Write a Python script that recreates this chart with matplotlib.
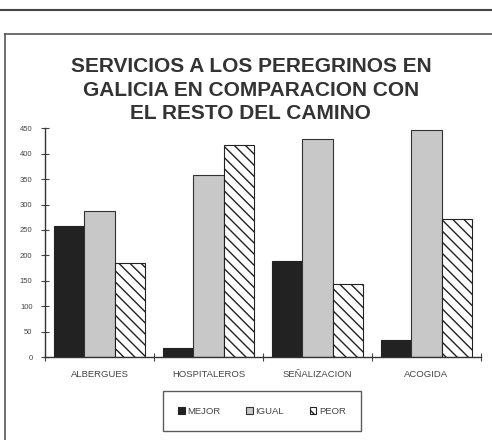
import numpy as np
import matplotlib.pyplot as plt
from matplotlib.lines import Line2D

categorias = ['ALBERGUES', 'HOSPITALEROS', 'SEÑALIZACION', 'ACOGIDA']
mejor = [257, 18, 189, 34]
igual = [288, 359, 428, 447]
peor = [185, 418, 143, 271]
y_ticks = list(range(0, 451, 50))

plt.rcParams['font.family'] = ['Liberation Sans', 'DejaVu Sans']
plt.rcParams['hatch.linewidth'] = 1.0
plt.rcParams['hatch.color'] = '#222222'

fig = plt.figure(figsize=(4.92, 4.40), dpi=100)
fig.patch.set_facecolor('white')

# marco de la pagina
fig.add_artist(Line2D([0, 1], [1 - 10 / 440, 1 - 10 / 440], color='#444444', lw=1.5))
fig.add_artist(Line2D([5 / 492, 1], [1 - 34 / 440, 1 - 34 / 440], color='#555555', lw=1.2))
fig.add_artist(Line2D([5 / 492, 5 / 492], [0, 1 - 34 / 440], color='#555555', lw=1.2))

fig.text(0.51, 1 - 90 / 440,
         'SERVICIOS A LOS PEREGRINOS EN\nGALICIA EN COMPARACION CON\nEL RESTO DEL CAMINO',
         ha='center', va='center', fontsize=15, fontweight='bold',
         color='#333333', linespacing=1.27)

ax = fig.add_axes([45 / 492, 1 - 357 / 440, (481 - 45) / 492, (357 - 128.3) / 440])
x = np.arange(len(categorias))
w = 0.28
ax.bar(x - w, mejor, w, color='#222222', edgecolor='#222222', lw=0.8, label='MEJOR')
ax.bar(x, igual, w, color='#c8c8c8', edgecolor='#333333', lw=0.8, label='IGUAL')
ax.bar(x + w, peor, w, color='white', edgecolor='#222222', lw=0.8, hatch='\\\\\\', label='PEOR')

ax.set_xlim(-0.5, 3.5)
ax.set_ylim(0, 450)
ax.set_yticks(y_ticks)
ax.set_yticklabels([str(v) for v in y_ticks], fontsize=5.5, color='#444444')
ax.set_xticks(np.arange(-0.5, 4, 1))
ax.set_xticklabels([])
ax.set_xticks(x, minor=True)
ax.set_xticklabels(categorias, minor=True, fontsize=6.8, color='#444444')
ax.tick_params(axis='x', which='minor', length=0, pad=9)
ax.tick_params(axis='x', which='major', direction='inout', length=6, color='#444444')
ax.tick_params(axis='y', direction='inout', length=6, pad=6, color='#444444')
for s in ['top', 'right']:
    ax.spines[s].set_visible(False)
for s in ['left', 'bottom']:
    ax.spines[s].set_color('#333333')
    ax.spines[s].set_linewidth(1.0)

leg = fig.legend(loc='center', bbox_to_anchor=(262 / 492, 1 - 411 / 440), ncol=3,
                 fontsize=6.8, frameon=True, fancybox=False, edgecolor='#333333',
                 handlelength=0.7, handleheight=0.7, handletextpad=0.3,
                 columnspacing=2.7, borderpad=1.6, borderaxespad=0)
leg.get_frame().set_linewidth(1.0)
for t in leg.get_texts():
    t.set_color('#444444')

fig.savefig('out.png', dpi=100)
